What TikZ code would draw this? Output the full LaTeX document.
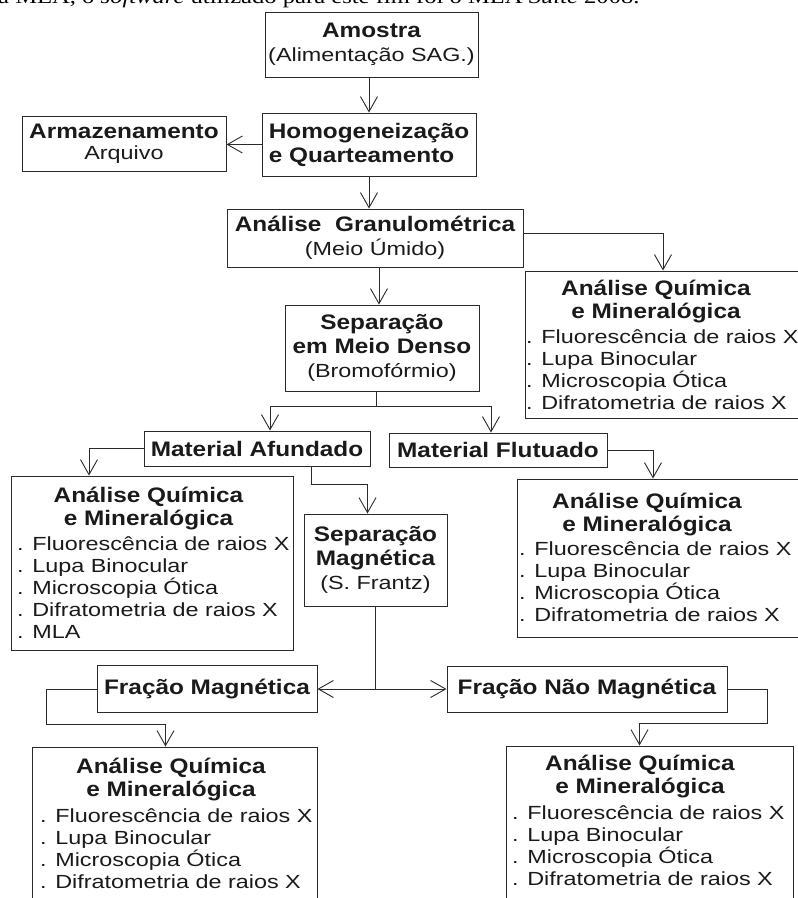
\documentclass[tikz,border=0pt]{standalone}
\usepackage{fontspec}
\setmainfont{Liberation Sans}[FakeStretch=1.23]
\newfontfamily\negrito{Liberation Sans}[FakeStretch=1.16]
\newfontfamily\serifa{Liberation Serif}[FakeStretch=1.2]
\usetikzlibrary{arrows.meta, calc}
\definecolor{linhaEscura}{HTML}{2B2B2B}
\definecolor{textoEscuro}{HTML}{1A1A1A}
\newcommand{\fonteTexto}{\fontsize{19}{24}\selectfont}
\newcommand{\tit}[1]{{\negrito\bfseries\fontsize{21}{24}\selectfont #1}}
% caixa de analise: nome, x do titulo, base do titulo, x da lista, base da lista
\newcommand{\analiseQM}[5]{%
  \node[titulo, anchor=base] (#1-t1) at (#2,#3) {Análise Química};
  \node[titulo, anchor=base] (#1-t2) at (#2,#3+23) {e Mineralógica};
  \foreach \linha [count=\i] in {Fluorescência de raios X, Lupa Binocular, Microscopia Ótica, Difratometria de raios X}
    \node[lista, anchor=base west] (#1-l\i) at (#4,#5+22*\i-22) {. \linha};
}

\begin{document}
\begin{tikzpicture}[x=1pt, y=-1pt,
    caixa/.style={draw=linhaEscura, line width=1pt, inner sep=0pt, align=center, text=textoEscuro, font=\fonteTexto},
    titulo/.style={inner sep=0pt, text=textoEscuro, font=\negrito\bfseries\fontsize{21}{24}\selectfont},
    lista/.style={inner sep=0pt, text=textoEscuro, font=\fonteTexto},
    seta/.style={draw=linhaEscura, line width=0.9pt, -{Straight Barb[length=15pt, width=17pt, line width=0.9pt]}}]
  \useasboundingbox (0,0) rectangle (798,898);
  \clip (0,0) rectangle (798,898);
  % linha de texto cortada no topo
  \node[anchor=base west, inner sep=0pt, font=\serifa\fontsize{20.5}{22}\selectfont] (textoTopo) at (-2,3.5)
    {a MEA, o \textit{software} utilizado para este fim foi o MLA \textit{Suite} 2008.};

  % caixas principais
  \node[caixa, minimum width=213, minimum height=65] (amostra) at (371.5,44.5) {\tit{Amostra}\\(Alimentação SAG.)};
  \node[caixa, minimum width=214, minimum height=63, align=left] (homog) at (369,144.5) {\tit{Homogeneização}\\\tit{e Quarteamento}};
  \node[caixa, minimum width=204, minimum height=55] (armaz) at (124,143.5) {\tit{Armazenamento}\\[-3pt]Arquivo};
  \node[caixa, minimum width=296, minimum height=58] (gran) at (375,238) {\tit{Análise\ \ Granulométrica}\\(Meio Úmido)\hspace{26pt}};
  \node[caixa, minimum width=194, minimum height=86] (sep) at (382,348) {\tit{Separação}\\\tit{em Meio Denso}\\(Bromofórmio)};
  \node[caixa, minimum width=226, minimum height=35] (afund) at (257,448.5) {\tit{Material Afundado}};
  \node[caixa, minimum width=218, minimum height=34] (flut) at (498,450) {\tit{Material Flutuado}};
  \node[caixa, minimum width=143, minimum height=92] (sepmag) at (375.5,560) {\tit{Separação}\\\tit{Magnética}\\(S. Frantz)};
  \node[caixa, minimum width=220, minimum height=47] (fmag) at (207,689) {\tit{Fração Magnética}};
  \node[caixa, minimum width=280, minimum height=46] (fnmag) at (587,689) {\tit{Fração Não Magnética}};

  % caixas de analise quimica e mineralogica
  \node[caixa, minimum width=276, minimum height=147] (aqmGran) at (663,344.5) {};
  \analiseQM{aqmGran}{656}{295}{526}{343}
  \node[caixa, minimum width=282, minimum height=174] (aqmAfund) at (152,563) {};
  \analiseQM{aqmAfund}{148.5}{502}{17}{550}
  \node[lista, anchor=base west] (aqmAfund-l5) at (17,638) {. MLA};
  \node[caixa, minimum width=284, minimum height=158] (aqmFlut) at (659,558) {};
  \analiseQM{aqmFlut}{647}{508}{519}{555}
  \node[caixa, minimum width=285, minimum height=163] (aqmFmag) at (174.5,828.5) {};
  \analiseQM{aqmFmag}{171}{773}{40}{822}
  \node[caixa, minimum width=287, minimum height=164] (aqmFnmag) at (649.5,828) {};
  \analiseQM{aqmFnmag}{640}{770}{512}{819}

  % ligacoes
  \draw[seta] ([xshift=-2.5pt]amostra.south) -- (homog.north);
  \draw[seta] (homog.west) -- (homog.west -| armaz.east);
  \draw[seta] (homog.south) -- (homog.south |- gran.north);
  \draw[seta] ([xshift=4pt]gran.south) -- ([xshift=4pt]gran.south |- sep.north);
  \draw[seta] ([yshift=5pt]gran.east) -| (aqmGran.north);
  \draw[linhaEscura, line width=0.9pt] ([xshift=-6pt]sep.south) -- ++(0,15) coordinate (bifSep);
  \draw[seta] (bifSep) -| ([xshift=13pt]afund.north);
  \draw[seta] (bifSep) -| ([xshift=-7pt]flut.north);
  \draw[seta] (afund.west) -| ([xshift=-63pt]aqmAfund.north);
  \draw[seta] ([xshift=54pt]afund.south) -- ++(0,18) -| ([xshift=-8pt]sepmag.north);
  \draw[seta] (flut.east) -| ([xshift=-6pt]aqmFlut.north);
  \draw[seta] (sepmag.south) |- (fmag.east);
  \draw[seta] (sepmag.south) |- (fnmag.west);
  \draw[seta] (fmag.west) -- ++(-50,0) -- ++(0,35) -| ([xshift=-9pt]aqmFmag.north);
  \draw[seta] (fnmag.east) -- ++(40,0) -- ++(0,34) -| ([xshift=-10pt]aqmFnmag.north);
\end{tikzpicture}
\end{document}
